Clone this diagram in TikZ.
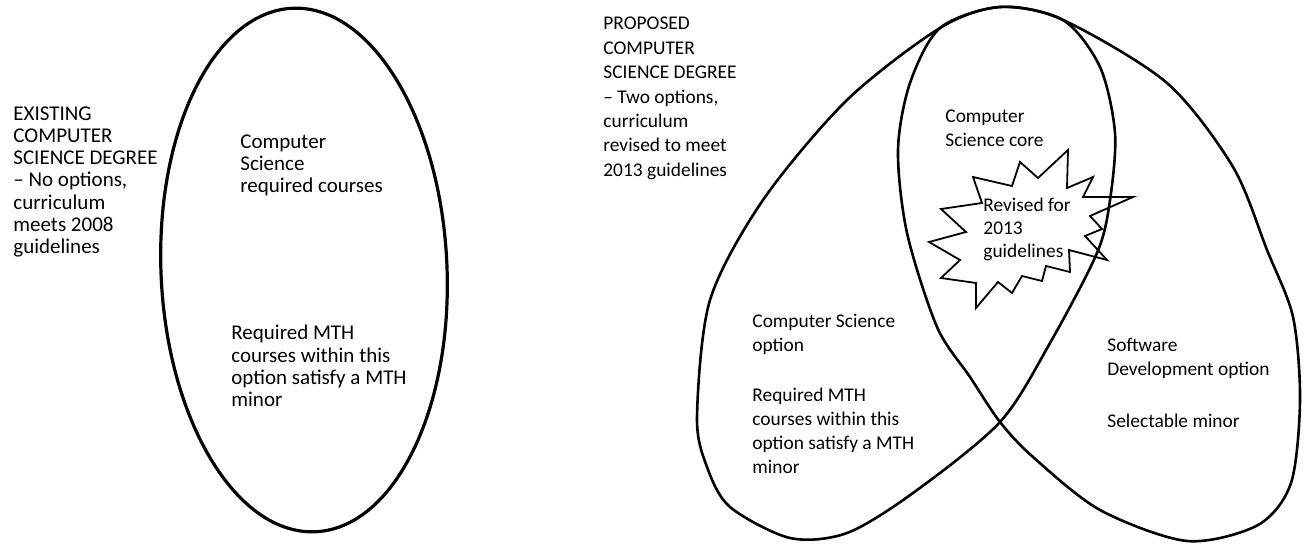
\documentclass[tikz,border=0pt]{standalone}
\usepackage{fontspec}
\setmainfont{Carlito}

\begin{document}
\begin{tikzpicture}[x=0.5pt,y=-0.5pt,
      outline/.style={line width=1.3pt},
      burst/.style={line width=0.9pt,line join=miter},
      txt/.style={anchor=north west,inner sep=0pt,align=left},
      oldtxt/.style={txt,font=\fontsize{10.5pt}{11.15pt}\selectfont},
      newtxt/.style={txt,font=\fontsize{9.7pt}{12pt}\selectfont}
      ]
      \useasboundingbox (0,0) rectangle (1304,545);
      % existing degree
      \draw[outline,line width=1.6pt,rotate around={2.5:(304,270)}] (304,270) ellipse [x radius=71.5pt,y radius=131pt];
      \node (olddeg) [oldtxt] at (13,106) {EXISTING\\COMPUTER\\SCIENCE DEGREE\\– No options,\\curriculum\\meets 2008\\guidelines};
      \node (oldreq) [oldtxt] at (240,134) {Computer\\Science\\required courses};
      \node (oldmth) [oldtxt] at (231,325) {Required MTH\\courses within this\\option satisfy a MTH\\minor};
      % proposed degree
      \draw[outline] plot[smooth cycle] coordinates {(1000,7) (940,28) (847,100) (763,200) (710,300) (697,417) (707,467) (730,507) (790,538) (847,533) (913,493) (1000,422) (1050,343) (1097,253) (1110,200) (1115,133) (1100,67) (1063,20)};
      \draw[outline] plot[smooth cycle] coordinates {(1000,7) (1063,20) (1167,83) (1233,167) (1267,250) (1293,317) (1300,400) (1291,483) (1258,525) (1187,541) (1100,510) (1033,457) (1000,422) (970,377) (937,327) (907,233) (898,150) (910,83) (940,28)};
      \draw[burst] (973,177) -- (1012,186) -- (1020,162) -- (1038,178) -- (1068,150) -- (1067,188)
        -- (1093,177) -- (1083,197) -- (1133,197) -- (1090,216) -- (1102,229) -- (1085,236)
        -- (1107,260) -- (1069,250) -- (1070,272) -- (1046,266) -- (1042,281) -- (1022,276)
        -- (1012,293) -- (998,282) -- (976,308) -- (976,283) -- (941,278) -- (960,260)
        -- (929,242) -- (966,232) -- (941,209) -- (982,203) -- cycle;
      \node (newdeg) [newtxt,font=\fontsize{9.7pt}{12.2pt}\selectfont] at (603,17) {PROPOSED\\COMPUTER\\SCIENCE DEGREE\\– Two options,\\curriculum\\revised to meet\\2013 guidelines};
      \node (core) [newtxt] at (945,110) {Computer\\Science core};
      \node (revised) [newtxt,font=\fontsize{9.7pt}{11.5pt}\selectfont] at (983,198) {Revised for\\2013\\guidelines};
      \node (csopt) [newtxt] at (752,314) {Computer Science\\option};
      \node (csmth) [newtxt] at (752,388) {Required MTH\\courses within this\\option satisfy a MTH\\minor};
      \node (swopt) [newtxt] at (1107,338) {Software\\Development option};
      \node (swminor) [newtxt] at (1107,414) {Selectable minor};
\end{tikzpicture}
\end{document}
